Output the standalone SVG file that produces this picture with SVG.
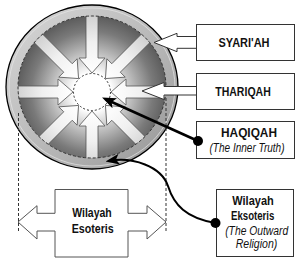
<svg xmlns="http://www.w3.org/2000/svg" width="299" height="263" viewBox="0 0 299 263">
<style>
.box{fill:#fff;stroke:#333;stroke-width:1}
.t{font-family:"Liberation Sans Narrow","Liberation Sans",Arial,sans-serif;font-weight:bold;fill:#111;text-anchor:middle}
.i{font-family:"Liberation Sans Narrow","Liberation Sans",Arial,sans-serif;font-style:italic;fill:#111;text-anchor:middle}
.dash{fill:none;stroke:#333;stroke-width:1;stroke-dasharray:3,2}
.spoke{fill:url(#spokeG);stroke:#555;stroke-width:0.8}
.conn{fill:none;stroke:#000}
</style>
<defs>
<linearGradient id="ringG" x1="0" y1="0" x2="1" y2="1">
<stop offset="0" stop-color="#d8d8d8"/>
<stop offset="0.6" stop-color="#b4b4b4"/>
<stop offset="1" stop-color="#949494"/>
</linearGradient>
<radialGradient id="discG" cx="92" cy="92" r="76" gradientUnits="userSpaceOnUse">
<stop offset="0.25" stop-color="#ffffff"/>
<stop offset="0.45" stop-color="#cfcfcf"/>
<stop offset="0.8" stop-color="#7a7a7a"/>
<stop offset="1" stop-color="#5c5c5c"/>
</radialGradient>
<linearGradient id="spokeG" x1="-80" y1="0" x2="-19" y2="0" gradientUnits="userSpaceOnUse">
<stop offset="0" stop-color="#cccccc"/>
<stop offset="0.5" stop-color="#f0f0f0"/>
<stop offset="1" stop-color="#ffffff"/>
</linearGradient>
<clipPath id="discClip"><ellipse cx="92" cy="87" rx="74" ry="71"/></clipPath>
<polygon id="spk" points="-95,-6 -34,-6 -34,-13 -19,0 -34,13 -34,6 -95,6"/>
<marker id="ah" markerUnits="userSpaceOnUse" markerWidth="14" markerHeight="11" refX="10" refY="5.5" orient="auto">
<path d="M0,0 L14,5.5 L0,11 L3.5,5.5 Z" fill="#000"/>
</marker>
</defs>

<g id="wheel">
<ellipse cx="92" cy="87" rx="86" ry="82" fill="url(#ringG)" stroke="#000" stroke-width="1.3"/>
<ellipse cx="92" cy="87" rx="83" ry="79" fill="none" stroke="#e6e6e6" stroke-width="1" opacity="0.7"/>
<ellipse cx="92" cy="87" rx="74" ry="71" fill="url(#discG)"/>
<g clip-path="url(#discClip)">
<g transform="translate(92 92)">
<use href="#spk" class="spoke"/>
<use href="#spk" class="spoke" transform="rotate(45)"/>
<use href="#spk" class="spoke" transform="rotate(90)"/>
<use href="#spk" class="spoke" transform="rotate(135)"/>
<use href="#spk" class="spoke" transform="rotate(180)"/>
<use href="#spk" class="spoke" transform="rotate(225)"/>
<use href="#spk" class="spoke" transform="rotate(270)"/>
<use href="#spk" class="spoke" transform="rotate(315)"/>
</g>
</g>
<ellipse cx="92" cy="87" rx="74" ry="71" class="dash" stroke="#444"/>
<circle cx="92" cy="92" r="18.5" fill="#fff" stroke="#333" stroke-width="1" stroke-dasharray="2,2"/>
</g>

<g id="guides">
<line x1="18.5" y1="113" x2="18.5" y2="232" class="dash"/>
<line x1="166" y1="98" x2="166" y2="232" class="dash"/>
</g>

<g id="syariah">
<polygon points="154,42.5 177,33.3 177,36.5 197,36.5 197,48.3 177,48.3 177,51.7" fill="#fff" stroke="#333" stroke-width="1"/>
<rect x="196.5" y="24.5" width="98" height="36" class="box"/>
<text x="244" y="47.3" class="t" font-size="12.5" textLength="51" lengthAdjust="spacingAndGlyphs">SYARI'AH</text>
</g>

<g id="thariqah">
<polygon points="142,91 164,82.5 164,86.5 197,86.5 197,95 164,95 164,99.5" fill="#fff" stroke="#333" stroke-width="1"/>
<rect x="196.5" y="73.5" width="98" height="36" class="box"/>
<text x="243" y="95.5" class="t" font-size="12.5" textLength="55.5" lengthAdjust="spacingAndGlyphs">THARIQAH</text>
</g>

<g id="haqiqah">
<rect x="196.5" y="121.5" width="98" height="37" class="box"/>
<text x="249" y="136.7" class="t" font-size="13" textLength="56" lengthAdjust="spacingAndGlyphs">HAQIQAH</text>
<text x="247" y="152.3" class="i" font-size="12" textLength="75" lengthAdjust="spacingAndGlyphs">(The Inner Truth)</text>
</g>

<g id="eksoteris">
<rect x="216.5" y="189.5" width="77" height="67" class="box"/>
<text x="253" y="204.7" class="t" font-size="12.5" textLength="41.5" lengthAdjust="spacingAndGlyphs">Wilayah</text>
<text x="252.7" y="219.7" class="t" font-size="12.5" textLength="43.3" lengthAdjust="spacingAndGlyphs">Eksoteris</text>
<text x="256.7" y="234.5" class="i" font-size="12" textLength="63" lengthAdjust="spacingAndGlyphs">(The Outward</text>
<text x="256.5" y="247.5" class="i" font-size="12" textLength="41.6" lengthAdjust="spacingAndGlyphs">Religion)</text>
</g>

<g id="esoteris">
<polygon points="18,222 37,205.7 37,213.3 55,213.3 55,189.5 128,189.5 128,213.3 147,213.3 147,205.7 166,222 147,239 147,231 128,231 128,257 55,257 55,231 37,231 37,239" fill="#fff" stroke="#555" stroke-width="1"/>
<text x="92" y="217.3" class="t" font-size="12.5" textLength="39.5" lengthAdjust="spacingAndGlyphs">Wilayah</text>
<text x="92.7" y="233.3" class="t" font-size="12.5" textLength="42" lengthAdjust="spacingAndGlyphs">Esoteris</text>
</g>

<g id="connectors">
<line x1="198" y1="141" x2="105.7" y2="99.2" class="conn" stroke-width="2.6" marker-end="url(#ah)"/>
<circle cx="198" cy="141" r="5" fill="#000"/>
<path d="M 215.5 223 C 186 218, 174 205, 168 186 C 161 166, 133 157, 109.5 160.8" class="conn" stroke-width="2" marker-end="url(#ah)"/>
<circle cx="215.5" cy="223" r="5" fill="#000"/>
</g>
</svg>
